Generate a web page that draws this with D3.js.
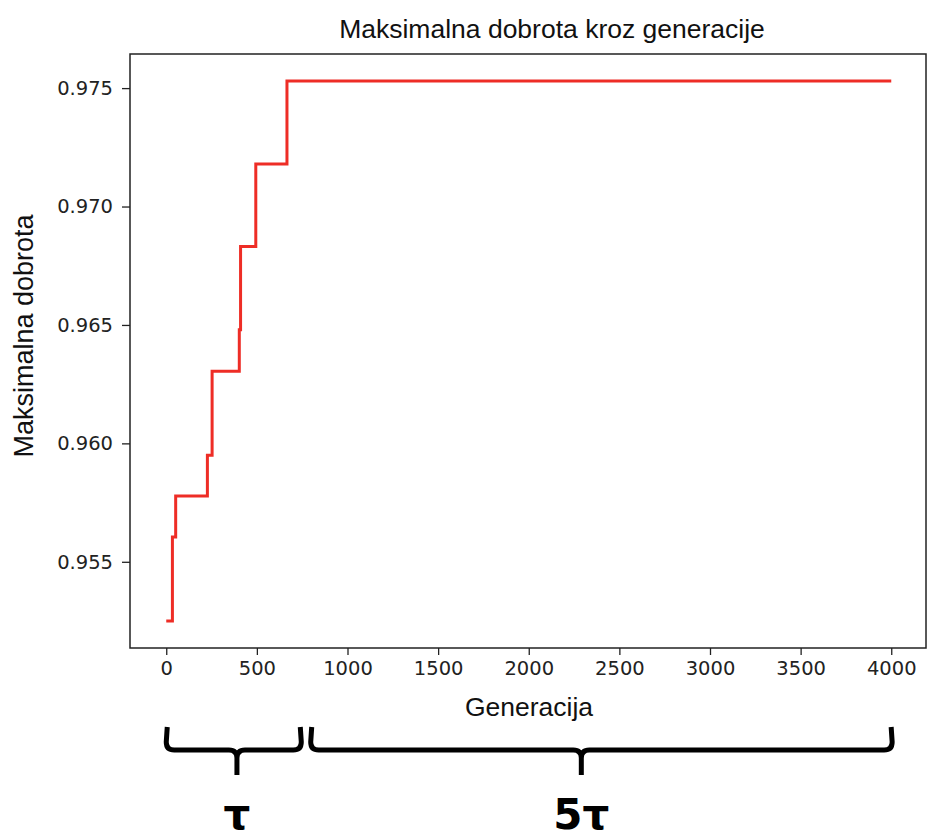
<!DOCTYPE html>
<html>
<head>
<meta charset="utf-8">
<script src="https://cdn.jsdelivr.net/npm/d3@7"></script>
<style>
  body { margin: 0; background: #fff; }
  svg { display: block; }
</style>
</head>
<body>
<div id="my_dataviz"></div>
<script>
// step data
var generations = [0, 34, 52, 227, 253, 403, 410, 494, 666, 4000];
var fitness = [0.9525, 0.95605, 0.95778, 0.9595, 0.96304, 0.9648, 0.96831, 0.9718, 0.9753, 0.9753];

var xTicks = [0, 500, 1000, 1500, 2000, 2500, 3000, 3500, 4000];
var yTicks = [0.955, 0.960, 0.965, 0.970, 0.975];

// brace annotations under the x axis (in generation units)
var braceFrom = [0, 797];
var braceTo = [745, 4005];
var braceTip = [390, 2290];
var braceLabels = ["τ", "5τ"];

var W = 927, H = 839;
var margin = {top: 54, right: 0, bottom: 191, left: 130};

var svg = d3.select("#my_dataviz")
    .append("svg")
    .attr("width", W)
    .attr("height", H);

var x = d3.scaleLinear()
    .domain([-200, 4200])
    .range([margin.left, 927.5]);

var y = d3.scaleLinear()
    .domain([0.95136, 0.97644])
    .range([H - margin.bottom, margin.top]);

// x axis
var xAxis = svg.append("g")
    .attr("transform", "translate(0," + (H - margin.bottom) + ")")
    .call(d3.axisBottom(x).tickValues(xTicks).tickSize(7).tickPadding(6).tickFormat(d3.format("d")));
xAxis.select(".domain").remove();
xAxis.selectAll("line").attr("stroke", "#222").attr("stroke-width", 1.3);
xAxis.selectAll("text")
    .style("font-family", "'DejaVu Sans', sans-serif")
    .style("font-size", "19.5px")
    .attr("fill", "#222");

// y axis
var yAxis = svg.append("g")
    .attr("transform", "translate(" + margin.left + ",0)")
    .call(d3.axisLeft(y).tickValues(yTicks).tickSize(8).tickPadding(9).tickFormat(d3.format(".3f")));
yAxis.select(".domain").remove();
yAxis.selectAll("line").attr("stroke", "#222").attr("stroke-width", 1.3);
yAxis.selectAll("text")
    .style("font-family", "'DejaVu Sans', sans-serif")
    .style("font-size", "19.5px")
    .attr("fill", "#222");

// the line
var pts = generations.map(function(g, i) { return [g, fitness[i]]; });
var line = d3.line()
    .x(function(d) { return x(d[0]); })
    .y(function(d) { return y(d[1]); })
    .curve(d3.curveStepAfter);

svg.append("path")
    .datum(pts)
    .attr("d", line)
    .attr("fill", "none")
    .attr("stroke", "#ee2d26")
    .attr("stroke-width", 3);

// frame
svg.append("rect")
    .attr("x", x.range()[0])
    .attr("y", y.range()[1])
    .attr("width", x.range()[1] - x.range()[0] - 1.5)
    .attr("height", y.range()[0] - y.range()[1])
    .attr("fill", "none")
    .attr("stroke", "#222")
    .attr("stroke-width", 1.5);

// titles
svg.append("text")
    .attr("x", 552)
    .attr("y", 38)
    .attr("text-anchor", "middle")
    .style("font-family", "'Liberation Sans', Arial, sans-serif")
    .style("font-size", "26.5px")
    .attr("fill", "#111")
    .text("Maksimalna dobrota kroz generacije");

svg.append("text")
    .attr("x", 529)
    .attr("y", 716)
    .attr("text-anchor", "middle")
    .style("font-family", "'Liberation Sans', Arial, sans-serif")
    .style("font-size", "26.5px")
    .attr("fill", "#111")
    .text("Generacija");

svg.append("text")
    .attr("transform", "translate(33,336) rotate(-90)")
    .attr("text-anchor", "middle")
    .style("font-family", "'Liberation Sans', Arial, sans-serif")
    .style("font-size", "27px")
    .attr("fill", "#111")
    .text("Maksimalna dobrota");

// braces
var bTop = 727, bMid = 750, bBottom = 775, r = 8;
braceFrom.forEach(function(f, i) {
    var x0 = x(f), x1 = x(braceTo[i]), xt = x(braceTip[i]);
    var p = d3.path();
    p.moveTo(x0 + 1, bTop);
    p.lineTo(x0, bMid - r);
    p.quadraticCurveTo(x0, bMid, x0 + r, bMid);
    p.lineTo(xt - r, bMid);
    p.quadraticCurveTo(xt, bMid, xt, bMid + r);
    p.lineTo(xt, bBottom);
    p.moveTo(xt, bMid + r);
    p.quadraticCurveTo(xt, bMid, xt + r, bMid);
    p.lineTo(x1 - r, bMid);
    p.quadraticCurveTo(x1, bMid, x1, bMid - r);
    p.lineTo(x1 - 1, bTop);
    svg.append("path")
        .attr("d", p.toString())
        .attr("fill", "none")
        .attr("stroke", "#000")
        .attr("stroke-width", 5)
        .attr("stroke-linecap", "butt")
        .attr("stroke-linejoin", "round");

    svg.append("text")
        .attr("x", xt)
        .attr("y", 829)
        .attr("text-anchor", "middle")
        .style("font-family", "'DejaVu Sans', sans-serif")
        .style("font-weight", "bold")
        .style("font-size", "42px")
        .attr("fill", "#000")
        .text(braceLabels[i]);
});
</script>
</body>
</html>
